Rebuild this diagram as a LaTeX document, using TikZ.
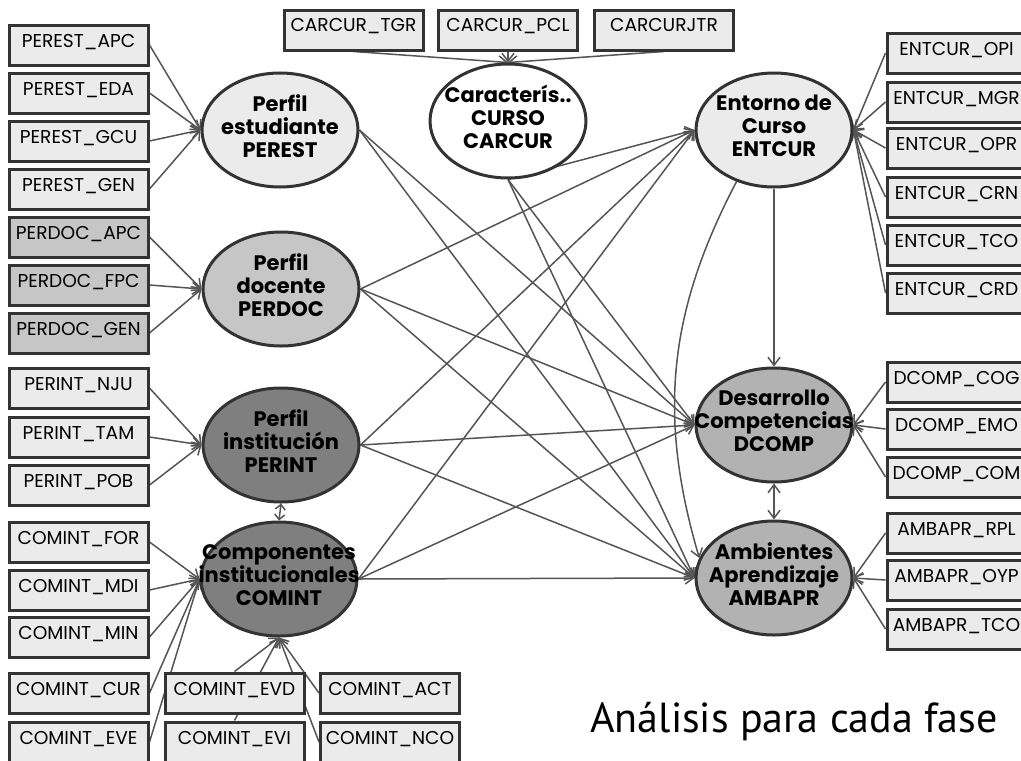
\documentclass[tikz,border=0pt]{standalone}
\usepackage{fontspec}
\newfontfamily\diagfont{Poppins}
\newfontfamily\notefont{PT Sans}
\usetikzlibrary{arrows.meta,backgrounds,shapes.geometric}
\definecolor{boxfill}{HTML}{EBEBEB}
\definecolor{docfill}{HTML}{C6C6C6}
\definecolor{darkfill}{HTML}{7F7F7F}
\definecolor{midfill}{HTML}{B2B2B2}
\definecolor{rim}{HTML}{333333}
\definecolor{wire}{HTML}{555555}
\tikzset{
  ind/.style={draw=rim, line width=1.5pt, fill=boxfill, rectangle,
    minimum width=69.5pt, inner xsep=0pt, inner ysep=0pt,
    text height=11pt, text depth=9pt, font=\diagfont\fontsize{9.3}{10}\selectfont},
  lat/.style={draw=rim, line width=1.5pt, ellipse, minimum width=78pt,
    minimum height=57pt, inner sep=0pt},
  latxt/.style={font=\diagfont\bfseries\fontsize{10.5}{11.5}\selectfont, align=center, yshift=2pt},
  wirearrow/.style={draw=wire, line width=0.75pt, -{Straight Barb[length=4pt,width=6pt]}},
  twoway/.style={draw=wire, line width=0.75pt,
    {Straight Barb[length=4pt,width=6pt]}-{Straight Barb[length=4pt,width=6pt]}},
  shorttwoway/.style={draw=wire, line width=0.75pt,
    {Straight Barb[length=2.5pt,width=5pt]}-{Straight Barb[length=2.5pt,width=5pt]}},
}
\begin{document}
\begin{tikzpicture}[x=0.5pt, y=-0.5pt]
  \useasboundingbox (0,0) rectangle (1021,760);
  % latent variables
  \node[lat, fill=boxfill, label={[latxt]center:Perfil\\estudiante\\PEREST}] (perest) at (280,130) {};
  \node[lat, fill=white, label={[latxt]center:Caracterís..\\CURSO\\CARCUR}] (carcur) at (508,121) {};
  \node[lat, fill=boxfill, label={[latxt]center:Entorno de\\Curso\\ENTCUR}] (entcur) at (774,130) {};
  \node[lat, fill=docfill, label={[latxt]center:Perfil\\docente\\PERDOC}] (perdoc) at (281,289) {};
  \node[lat, fill=darkfill, label={[latxt]center:Perfil\\institución\\PERINT}] (perint) at (281,445) {};
  \node[lat, fill=darkfill, label={[latxt]center:Componentes\\institucionales\\COMINT}] (comint) at (279,579) {};
  \node[lat, fill=midfill, label={[latxt]center:Desarrollo\\Competencias\\DCOMP}] (dcomp) at (774,425) {};
  \node[lat, fill=midfill, label={[latxt]center:Ambientes\\Aprendizaje\\AMBAPR}] (ambapr) at (774,578) {};

  % indicators, left column
  \node[ind] (perest-apc) at (78.5,45) {PEREST\_APC};
  \node[ind] (perest-eda) at (78.5,93) {PEREST\_EDA};
  \node[ind] (perest-gcu) at (78.5,141) {PEREST\_GCU};
  \node[ind] (perest-gen) at (78.5,189) {PEREST\_GEN};
  \node[ind, fill=docfill] (perdoc-apc) at (78.5,237) {PERDOC\_APC};
  \node[ind, fill=docfill] (perdoc-fpc) at (78.5,285) {PERDOC\_FPC};
  \node[ind, fill=docfill] (perdoc-gen) at (78.5,333) {PERDOC\_GEN};
  \node[ind] (perint-nju) at (78.5,388) {PERINT\_NJU};
  \node[ind] (perint-tam) at (78.5,437) {PERINT\_TAM};
  \node[ind] (perint-pob) at (78.5,485) {PERINT\_POB};
  \node[ind] (comint-for) at (78.5,542) {COMINT\_FOR};
  \node[ind] (comint-mdi) at (78.5,590) {COMINT\_MDI};
  \node[ind] (comint-min) at (78.5,637) {COMINT\_MIN};
  \node[ind] (comint-cur) at (78.5,693) {COMINT\_CUR};
  \node[ind] (comint-eve) at (78.5,742) {COMINT\_EVE};
  % bottom row
  \node[ind] (comint-evd) at (234.5,693) {COMINT\_EVD};
  \node[ind] (comint-evi) at (234.5,742) {COMINT\_EVI};
  \node[ind] (comint-act) at (390,693) {COMINT\_ACT};
  \node[ind] (comint-nco) at (390,742) {COMINT\_NCO};
  % top row
  \node[ind] (carcur-tgr) at (353.5,30) {CARCUR\_TGR};
  \node[ind] (carcur-pcl) at (508,30) {CARCUR\_PCL};
  \node[ind] (carcur-jtr) at (664,30) {CARCURJTR};
  % right column
  \node[ind] (entcur-opi) at (956.5,53) {ENTCUR\_OPI};
  \node[ind] (entcur-mgr) at (956.5,102) {ENTCUR\_MGR};
  \node[ind] (entcur-opr) at (956.5,148) {ENTCUR\_OPR};
  \node[ind] (entcur-crn) at (956.5,197) {ENTCUR\_CRN};
  \node[ind] (entcur-tco) at (956.5,245) {ENTCUR\_TCO};
  \node[ind] (entcur-crd) at (956.5,293) {ENTCUR\_CRD};
  \node[ind] (dcomp-cog) at (956.5,382) {DCOMP\_COG};
  \node[ind] (dcomp-emo) at (956.5,429) {DCOMP\_EMO};
  \node[ind] (dcomp-com) at (956.5,477) {DCOMP\_COM};
  \node[ind] (ambapr-rpl) at (956.5,533) {AMBAPR\_RPL};
  \node[ind] (ambapr-oyp) at (956.5,580) {AMBAPR\_OYP};
  \node[ind] (ambapr-tco) at (956.5,629) {AMBAPR\_TCO};

  \node[anchor=base west, inner sep=0pt, font=\notefont\fontsize{21}{24}\selectfont] (caption) at (590,732) {Análisis para cada fase};

  \begin{pgfonlayer}{background}
    \fill[white] (0,0) rectangle (1021,760);
    % measurement paths
    \foreach \b in {apc,eda,gcu,gen} \draw[wirearrow] (perest-\b.east) -- (perest.west);
    \foreach \b in {apc,fpc,gen} \draw[wirearrow] (perdoc-\b.east) -- (perdoc.west);
    \foreach \b in {nju,tam,pob} \draw[wirearrow] (perint-\b.east) -- (perint.west);
    \foreach \b in {for,mdi,min,cur,eve} \draw[wirearrow] (comint-\b.east) -- (comint.west);
    \foreach \b in {evd,evi} \draw[wirearrow] (comint-\b.north) -- (comint.south);
    \foreach \b in {act,nco} \draw[wirearrow] (comint-\b.west) -- (comint.south);
    \foreach \b in {tgr,pcl,jtr} \draw[wirearrow] (carcur-\b.south) -- (carcur.north);
    \foreach \b in {opi,mgr,opr,crn,tco,crd} \draw[wirearrow] (entcur-\b.west) -- (entcur.east);
    \foreach \b in {cog,emo,com} \draw[wirearrow] (dcomp-\b.west) -- (dcomp.east);
    \foreach \b in {rpl,oyp,tco} \draw[wirearrow] (ambapr-\b.west) -- (ambapr.east);
    % structural paths
    \draw[wirearrow] (carcur.south) -- (entcur.west);
    \foreach \s in {perdoc,perint,comint} \draw[wirearrow] (\s.east) -- (entcur.west);
    \foreach \s in {perest,perdoc,perint,comint} {
      \draw[wirearrow] (\s.east) -- (dcomp.west);
      \draw[wirearrow] (\s.east) -- (ambapr.west);
    }
    \draw[wirearrow] (carcur.south) -- (dcomp.west);
    \draw[wirearrow] (carcur.south) -- (ambapr.west);
    \draw[wirearrow] (entcur.south) -- (dcomp.north);
    \draw[wirearrow] (entcur.234) to[bend right=22] (ambapr.165);
    \draw[twoway] (dcomp.south) -- (ambapr.north);
    \draw[shorttwoway] (perint.south) -- (comint.north);
  \end{pgfonlayer}
\end{tikzpicture}
\end{document}
